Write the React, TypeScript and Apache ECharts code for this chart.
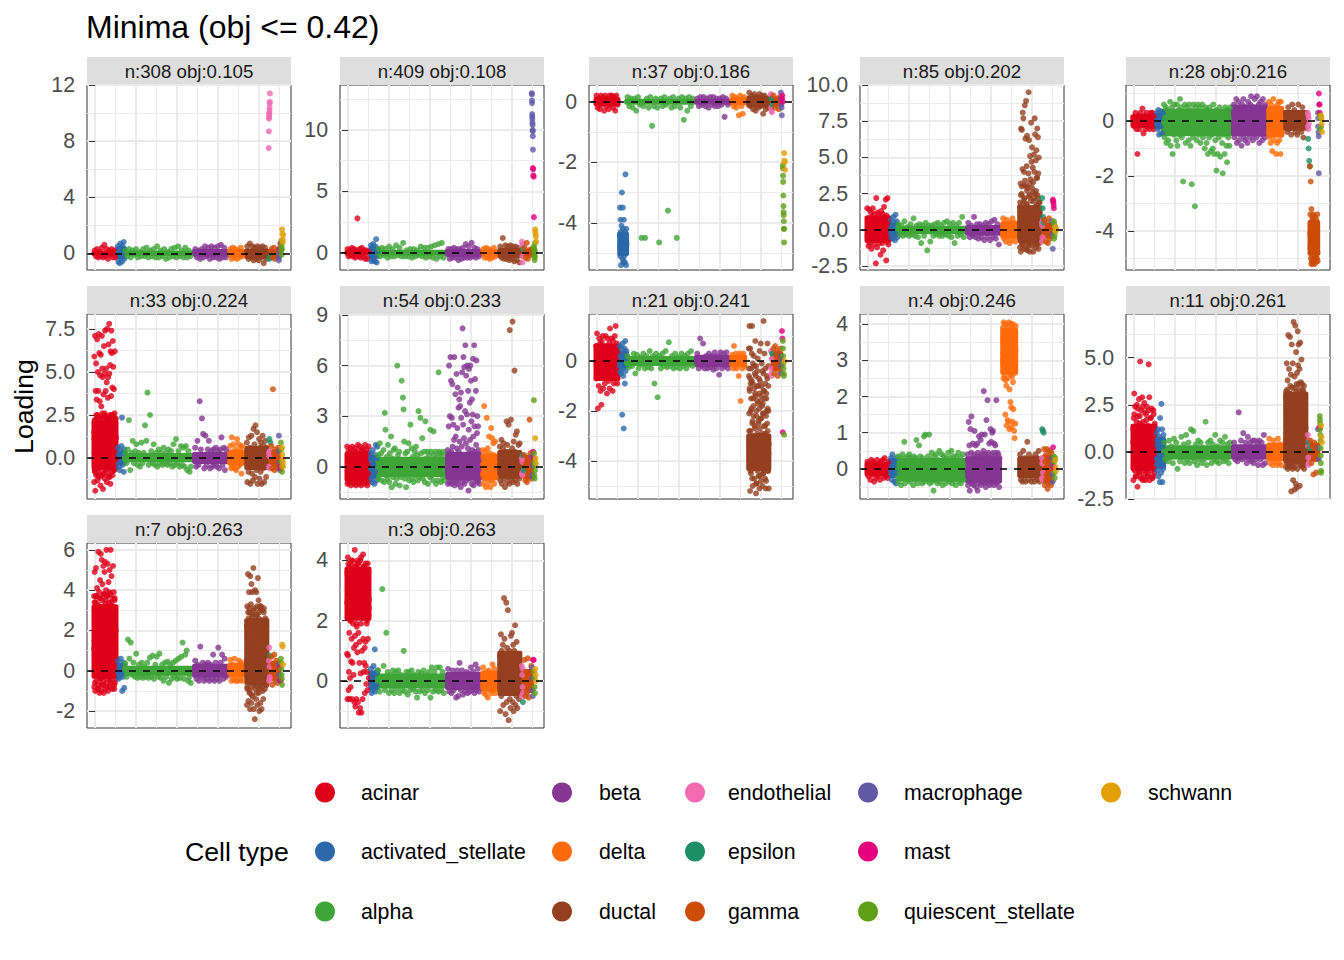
import React, { useEffect, useRef } from "react";
import * as echarts from "echarts";

const cellTypes = ["acinar","activated_stellate","alpha","beta","delta","ductal","endothelial","epsilon","gamma","macrophage","mast","quiescent_stellate","schwann"];
const typeColors = ["#DE001A","#2C68AA","#40A538","#843692","#FF6B0A","#944020","#F369B2","#1D8F67","#CC4C08","#6358A5","#E5007E","#5F9F16","#E29F08"];
// cell-rank span of each cell type on the shared x scale
const typeSpans = [[-30,510],[550,720],[720,2355],[2430,3215],[3290,3610],[3705,4200],[4245,4275],[4250,4300],[4300,4490],[4490,4520],[4515,4545],[4540,4575],[4570,4600]];
const xMajor = [0,1000,2000,3000,4000];
const xMinor = [500,1500,2500,3500,4500];
// cell types whose points overplot into a solid core
const coreTypes = [0,1,2,3,4,5,8];

const n308_core = [[-.2,.2],[-.4,.5],[-.2,.2],[-.25,.3],[-.3,.3],[-.4,.35],[-.3,.3]];
const n409_core = [[-.25,.25],[-.5,.5],[-.25,.25],[-.35,.3],[-.35,.3],[-.45,.4],[-.3,.3]];
const n37_core = [[-.15,.15],[-5.1,-4.3],[-.1,.1],[-.1,.1],[-.12,.15],[-.2,.2],[-.15,.15]];
const n85_core = [[-.9,1],[-.4,.5],[-.3,.3],[-.4,.35],[-.6,.6],[-.9,1.7],[-.6,.5]];
const n28_core = [[-.25,.25],[-.3,.3],[-.55,.45],[-.55,.6],[-.6,.55],[-.35,.4],[-4.9,-3.6]];
const n33_core = [[-.7,2.2],[-.4,.4],[-.25,.3],[-.35,.35],[-.45,.5],[-.7,.7],[-.5,.5]];
const n54_core = [[-.9,.9],[-.7,.7],[-.6,.6],[-.8,.9],[-.8,.8],[-.7,1],[-.7,.7]];
const n21_core = [[-.8,.7],[-.3,.4],[-.2,.2],[-.25,.25],[-.25,.25],[-4.4,-2.9],[-.4,.4]];
const n4_core = [[-.2,.2],[-.25,.3],[-.35,.3],[-.4,.35],[2.6,3.9],[-.25,.35],[-.4,.4]];
const n11_core = [[-1,1.5],[-.9,.8],[-.4,.35],[-.4,.4],[-.5,.5],[-.6,3.2],[-.5,.5]];
const n7_core = [[-.4,3.3],[-.3,.4],[-.25,.25],[-.35,.35],[-.35,.4],[-.7,2.6],[-.5,.5]];
const n3_core = [[2,3.8],[-.3,.35],[-.25,.25],[-.3,.3],[-.35,.35],[-.5,1],[-.4,.4]];

const n21_ductal2 = [-.3,-2.8,-1.1,-3.6,-.7,-4.4,-2,-1.5,-3.1,.3,-4.7,-2.4,-.9,-3.9,-1.8,-3.3,-.2,-4.1,-2.7,-1.3,-3.7,-.6,-4.9,-2.2,-3.4,-1.6,-.4,-4.3,-3,-2.5,-1,-3.8,-1.9,-4.6,-.8,-3.2,-2.3,-1.4,-4,-.1,-2.9,-3.5,-1.7,-4.5,-.5,-2.1,-3.6,-1.2,-4.2,-2.6,-.3,-3.1,-4.8,-1.5,-2,-3.9,-.7,-2.8,-4.4,-1,-3.3];
const n7_acinar2 = [1.1,3.4,-.6,2.5,.2,3.7,1.6,-.2,2.9,.7,3.2,-.9,2,.4,3.6,1.3,-.4,2.7,3,.9,-.7,1.9,3.5,.1,2.3,-.5,3.8,1.5,2.8,-.1,1,3.3,.5,2.1,-.8,3.7,1.7,.3,2.6,3.1,-.3,1.2,3.9,.6,2.4,-.6,1.8,3.4,.8,2.2,-.2,3,1.4,.2,2.7,-.9,3.6,1.1,2,.5];
const n7_ductal2 = [2.2,-.8,1,2.9,-.2,.5,3.1,-1,1.6,-.5,2.5,.2,-1.2,1.9,2.7,-.1,.8,3,-.7,1.3,2.4,-.3,.4,2,-1.1,2.8,1.1,-.6,1.7,2.6,0,-.9,1.4,3.2,.6,-.4,2.1,1.2,-.8,2.3,.3,1.8,2.9,-.2,.9,-.5,1.5,2.5,.1,-.7];
const n11_ductal2 = [2.9,-.4,1.4,3.3,.2,2.2,-.7,3.1,1,2.6,-.2,3.5,1.7,.5,2.8,-.6,1.2,3,.1,2.4,-.8,1.9,3.4,.7,2.1,-.3,3.2,1.5,.3,2.7,-.5,1.1,3.6,.9,2.3,0,1.8,3,-.4,2.5,1.3,.4,3.3,2,-.7,1.6,2.9,.6,2.2,-.1];
const n11_acinar2 = [1.2,-.9,2,-.4,.7,-1.3,1.6,.2,2.3,-.7,1,-1.1,1.9,.4,-.2,1.4,-1.4,2.4,.6,-.6,1.1,2.1,-1,.3,1.7,-.3,.8,-1.2,2.2,.1,1.3,-.8,1.8,.5,-.5,1,-1.3,2,-.1,1.5];
const n33_acinar2 = [1.1,-.8,2.2,.3,1.7,-.3,2.5,.7,-1,1.4,2,-.5,.9,2.4,-.1,1.2,-.9,1.9,.5,2.6,-.6,1,.1,2.2,1.5,-.2,.7,2.3,-1.1,1.8,.4,1.3,-.4,2.5,.8,1.6,-.7,2.1,0,1.1];
const n3_acinar2 = [2.6,3.5,2.1,3.9,3,2.4,3.7,2.8,2,3.3,4,2.5,3.1,2.2,3.6,2.9,3.8,2.3,3.2,2.7,3.4,1.9,3,3.9,2.5,3.5,2.2,3.7,2.8,3.3,2.4,4.1,3,2.6,3.6,2.1,3.2,3.8,2.7,2.3,3.4,2.9,3.9,2.5,3.1,2,3.6,2.8,3.3,2.4];
const n85_ductal2 = [1.6,-.6,2.4,.4,3,-1,1.1,.2,2.1,-.3,3.4,.9,-.8,1.8,2.7,-.1,1.3,-1.1,2.3,.6,3.2,-.5,1.5,.1,2.9,-.7,.8,2,-.2,1.2,2.5,-.9,.5,1.7,3.6,0,2.2,-.4,1,1.9];
// [panel index, cell type index, extra overplotted values]
const extraPoints: [number, number, number[]][] = [[7,5,n21_ductal2],[10,0,n7_acinar2],[10,5,n7_ductal2],[9,5,n11_ductal2],[9,0,n11_acinar2],[5,0,n33_acinar2],[11,0,n3_acinar2],[3,5,n85_ductal2]];

const n308 = [
[.2,-.2,.3,-.3,.1,-.2,.4,-.3,.6,-.2,.3,-.4,.2,-.1,.3,-.3,.2,-.3],
[.5,-.6,.1,-.7,.7,-.3,.3,-.6,.5,0,.8,-.4],
[.2,-.2,.3,-.3,.2,-.1,.3,-.3,.1,-.2,.3,-.2,.4,-.3,.2,-.2,.3,-.3,.5,-.3,.2,-.2,.3,-.4,.1,-.3,.3,-.2,.4,-.3,.5,-.2,.2,-.3,.4,-.3,.2,-.2],
[.3,-.3,.2,-.4,.3,-.3,.5,-.2,.4,-.4,.5,-.3,.4,-.3,.5,-.4,.6,-.3,.4,-.3],
[.3,-.4,.4,-.3,.3,-.4,.2,-.3,.4,-.2],
[.5,-.4,.7,-.3,.5,-.5,.4,-.4,.5,-.5,.4,-.3,.5,-.7,.4,-.4],
[7.5,8.7,9.6,9.7,9.9,10,10.2,10.4,10.7,10.8,11.4],
[-.4,-.3,-.2],
[.3,-.3,.4,-.4,.1,-.2,.3],
[-.5,-.3,.1,-.1,.3,.2],
[.3,.7,.2],
[.2,.5,.9,.6,-.1,.3],
[1.7,1.4,1.0,.8,1.3],
];
const n409 = [
[.3,-.3,.2,-.2,.4,-.3,.3,-.4,.2,2.8,-.3,.3,-.4,.4,-.3,.2,-.5,.2,-.5,.1],
[.6,-.7,.4,-.5,.7,-.6,.2,-.7,.5,1.1,-.8,.1],
[.3,-.3,.4,-.2,.3,-.4,.5,-.3,.3,-.3,.6,-.2,.4,-.3,.8,-.3,.2,-.3,.3,-.4,.3,-.3,.2,-.2,.5,-.3,.4,-.4,.4,-.3,.5,-.4,.6,-.5,.7,-.3,.8,-.4],
[.3,-.5,.3,-.4,.4,-.4,.3,-.6,.3,-.5,.4,-.4,.7,-.4,.5,-.4,.8,-.3,.4,-.4,.3,-.3],
[.3,-.4,.4,-.4,.3,-.5,.2,-.4,.4,-.3],
[.5,-.4,1.2,-.5,.6,-.5,.5,-.6,.6,-.5,.5,-.7,.5,-.6,.4,-.8],
[.9,.5,-.3,-.8,.7],
[.3],
[.4,-.4,.8,-.5,.2,-.2,.3],
[13,12.9,12.4,12.2,11.3,11.1,10.9,10.6,10.4,10,9.9,9.5,8.4],
[6.9,6.8,6.3,6.2,2.9],
[.5,.3,.1,-.2,-.4,-.6,-.3,.2,.8],
[1.9,1.7,1.5,1.3,.9],
];
const n37 = [
[.2,-.2,.1,-.25,.2,-.1,.15,-.3,.2,-.15,.1,-.25,.2,-.1,.2,-.2,.15,-.3,.2,-.1],
[-4.4,-3.5,-4.8,-5.1,-3.9,-4.3,-5.4,-4.7,-4.1,-4.9,-3,-5,-4.5,-5.2,-3.5,-4.2,-4.7,-5.3,-4.4,-3.9,-4.8,-5.1,-4.6,-5.3,-4.3,-4.9,-2.4,-4.6,-5,-5.4,-4.2,-4.7],
[.15,-.15,.1,-.2,.1,-.3,.15,-.1,-4.5,-.15,-4.5,.1,-.2,.15,-.8,-.15,.1,-.2,-4.65,.1,-.15,.15,-.1,-3.6,.1,-.2,.15,-.15,-4.5,.1,-.2,.15,-.6,.1,-.3,.15,-.15,.1],
[.1,-.15,.15,-.1,.15,-.15,.1,-.2,.15,-.1,.15,-.15,.1,-.15,.1,-.1,.15,-.5,.1,-.1],
[.2,-.15,.15,-.2,.1,-.45,.2,-.15,-.4,.15],
[.3,-.15,.2,-.25,.25,-.3,.15,-.2,.25,-.15,.2,-.4,.2,-.25,.1,-.2],
[.25,-.2,.2,-.3,-.35],
[.1,-.1],
[.2,-.2,-.1,.1,-.25,.15],
[.3,.1,-.1,-.2,-.45],
[.1,.2,0],
[-2.1,-2.2,-2.45,-2.65,-3.1,-3.45,-3.65,-3.75,-3.95,-4.2,-4.2,-4.65],
[-1.7,-1.95,-2,-2.25],
];
const n85 = [
[1.5,-.5,.8,-1.1,.3,1.4,-.9,.6,-.2,1.2,-1.3,.9,.2,1.5,-.7,.4,-1.0,1.1,-.3,.7,-2.3,2.2,.1,-1.2,1.2,-.6,.5,1.0,-.9,.2,.8,-1.7,1.3,-.4,.6,-.9,1.1,-1.4,.3,1.6,-.7,.9,-.1,2.1,-2.1,1.0,-.8,2.2,.4,-1.0,.8],
[.7,-.5,.3,-.6,.9,-.2,.5,-.7,1.05,-.3,.6,-.5],
[.4,-.3,.3,-.4,.6,-.3,.2,-.4,.4,-.3,.8,-.4,.3,-.5,.4,-.9,.3,-.4,.5,-1.4,.3,-.8,.3,-.4,.4,-.3,.5,-.4,.3,-.4,.5,-.3,.6,-.4,.4,-.5,.5,-.9,.3,-.4,.5,-.3,.9,-.5],
[.5,-.5,.3,-.4,.9,-.5,.4,-.6,.4,-.5,.3,-.7,.5,-.5,.4,-.7,.6,-.5,.7,-.6,.4,-1],
[.8,-.6,.4,-.8,.7,-.5,.2,-.9,.5,-.7,.8,-.4,.5,-.8],
[.5,-1.2,1.9,-.5,3.2,-1.5,7.0,.3,-.8,2.5,6.9,-1,1.2,4.2,8.1,-.3,1.8,7.7,-1.3,.9,4,3.1,-.7,2.2,8.6,-.2,1.4,6.3,-1.3,.7,8.9,3,-.6,4.4,1.7,6.5,-1.4,.2,2.9,-1,1.1,3.9,9.5,.4,6.2,-.5,1.5,2.4,-1.5,5.1,.8,3.5,-.9,2.0,7.4,-.4,4.7,1.3,5.7,-1.1,.3,2.6,4.3,-.2,3.3,-1.5,.7,5.2,2.2,-.7,4,7.7,.1,6.6,1.6,-1.2,4.8,2.7,-.3,5.5,3.6,1.0,-1,7.0,2.4,-.6,6.4,.5,3.9,-1.3,5,1.9,-.1,-.9,.6,1.2],
[.5,-.8,.3,-.5,.7],
[2.2,1.5,.9,.5],
[.7,-.8,.5,-.9,.8,-.6,.3],
[.6,-.3,-1.3],
[2.1,2,1.9,1.7,1.5],
[.6,-.6,.4,-.4,.2,-.1],
[.2,-.1,.1],
];
const n28 = [
[.1,-.2,.3,-.3,-1.2,.2,-.3,.3,-.1,.45,-.45,.2,-.3,.3,-.2,.1,-.3,.3,-.2,.3,-.3,.2],
[.3,-.3,.4,-.5,.2,-.2,.35,-.45,.1,.3],
[.6,-.6,.1,.5,-.8,-.2,.4,-.7,.3,-.4,.7,-.9,-.1,.5,-1.2,.2,-.5,.6,-.3,.1,-.7,.6,-.9,-.1,.4,-.5,.8,-.2,.5,-.6,.1,-2.2,.3,-.4,.6,-.8,0,.5,-.4,.2,-.7,.6,-.3,-.9,.4,-2.3,.1,-.6,.6,-.4,-3.1,.5,-.2,-.7,.3,.6,-.5,-.1,.5,-.8,.2,-.4,.6,-.6,-.1,.3,-1.0,.5,-.3,-.8,.4,-1.2,.1,-.6,.5,-.3,-1.1,.3,-.5,-1.0,.6,-1.2,.1,-.7,.4,-1.8,-.2,-1.2,.3,-.6,.5,-1.3,-.4,.2,-.8,-1.9,.3,-.5,-1.2,.5,-.2,-.9,-1.5,.4,-.6,.1,-.9,.5],
[.6,-.6,.1,-.4,.8,-.8,.3,-.2,.7,-.7,.4,-.5,.1,-.9,.6,-.3,.8,-.6,.2,-.7,.5,-.1,.4,-.8,.7,-.4,.1,-.6,.6,.9,-.3,.3,-.7,.5,-.5,.8,-.2,.2,-.6,.9,.4,-.4,.6,-.8,.1,.7,-.5,.3,-.7,.8,-.2,.5,-.6,.6],
[.7,-.6,.1,-.8,.6,.4,-1.1,-.3,.8,-.7,.2,-.5,.5,-1.2,0,-.8,.6,-.4,.7,-.7,.3,-1.2,.7,-.5],
[.3,-.4,.5,-.3,.1,-.5,.6,-.2,.4,-.4,.3,-.5,.6,-.3,.2,-.4,.5,-.6,.3,-.2],
[.3,-.2,.2,-.3,.1,-.1],
[-.65,-1,-1.45,-1.65],
[-1.65,-4.1,-3.4,-4.6,-2.2,-5,-3.7,-4.3,-5.2,-3.2,-4.8,-3.9,-5.1,-4.5,-3.5,-4.2,-4.9,-3.6,-5.2,-4,-4.7,-3.4,-4.4,-5.1,-3.8,-4.6,-5,-4.1,-3.7,-4.8,-5.2,-4.3,-3.5,-4.6,-5,-3.9,-4.2,-4.9,-3.8,-4.5,-5.1,-3.6,-4.4,-4.7,-4.0,-5.0,-4.2,-3.4,-4.8,-5.1],
[.3,-.2,.1,-.4,-.55,-1.9],
[1,.6,.6,.3],
[.2,-.3,.1,-.2],
[.2,.1,-.1,-.4],
];
const n33 = [
[1.5,-1.4,5.9,.3,2.2,-.7,7.1,1,-1.9,.5,3.9,-.2,1.9,5.5,-1,2.5,.8,3.4,-.5,1.3,6.9,2.1,-1.3,.2,5,1.7,-.8,3.9,.6,2.4,7.2,-.3,1.2,6.1,-1.1,.9,3.3,-.6,2,4.8,.4,-1.6,1.6,6,2.3,-.1,3,.7,-1,1.4,7.1,5.2,2.6,-.4,.1,4.7,1.8,-1.8,2.2,.9,3.7,-.9,1.1,6.5,-.2,2.5,.5,4.9,-1.2,1.5,7.4,2,.3,-.7,3.9,1.3,5.2,-.5,2.4,.7,4.4,-1.4,1.9,7.5,.1,2.3,-.9,3.5,1,4.7,-.3,1.6,6.6,2.1,-1.1,.6,7.8,4.9,1.2,-.6,2.5,.4,5.4,1.8,-1.5,6.2,2.2,-.2,3.6,.9,7.4,1.4,-.8,6.1,2.5,.2,4.1,-1,1.7,6.8,2,.5,5.3,-.4,2.4,1.1,4,-.7,1.9,.8,2.6,.3,6.2,1.5,-.5,2.2,.7,-.1,2.3,1.2],
[.6,-.5,.2,-.7,.4,-.3,.7,2.35,-.4,.3,-.8,.5],
[.3,-.3,.5,2.2,-.7,.3,1.0,-.3,.4,.8,-.4,.3,-.5,.9,-.3,.3,1.9,1,3.8,-.4,2.5,.4,-.3,.8,-.4,.3,-.5,.5,-.3,.3,-.4,.6,-.3,.3,-.4,.5,-.3,.4,-.5,.8,-.4,1.1,-.3,.4,-.5,.7,-.4,.6,-.5,.7,-.7,.4,-.8,-.5],
[.6,-.5,1,-.4,3.3,.5,2.3,1.4,-.6,1.3,-.4,.5,1,-.6,.4,-.5,.5,-.4,.6,-.5,.4,-.6,.5,1.2,-.4,.6,-.7,.5],
[.7,-.6,1.2,-.5,.8,-.6,.5,-.7,1.1,-.5,.8,-.4,.6,-.9,.7],
[.9,-1.4,.3,-.8,1.2,-.3,.6,-1.5,.1,1.3,-.9,.5,-1.3,1.7,-.4,.8,-1.1,1.9,.2,-.7,1.5,-1.5,.4,-.2,1.1,-1.2,.6,-.8,.9,-1.5,.2,1.3,-.6,.7,-1.4,.4,1.0,-.5,-1.1,.6],
[.3,-.5,.1,-.6,.4],
[1.1,.9],
[.7,-.6,4,.3,-.7,.5,-.4,.2,-.6,.6],
[1.3,.4,-.3,-.7],
[-.5,-.6],
[.9,.5,-.2,-.5,-.8],
[.6,.2,-.1,-.3,-.5],
];
const n54 = [
[1.2,-1,.3,-.5,.9,-.9,0,.7,-.7,1.1,-.2,.5,-1.1,.8,.1,-.6,1.2,-.9,.4,-.3,.9,-1,.1,.6,-.7,1.1,-.4,.3,-1.1,.9,.1,-.6,.7,-.9,1.3,-.2,.4,-1,.8,-.5,1.2,-.8,.2,.6,-1.1,1,-.3,.5,-.8,1.1,0,-.5,.9,-1,.4,-.7,1.3,-.2,.7,-.9,.3,-.6,1.0,-1.1,.1,.8,-.4,1.2,-.9],
[.8,-.7,.4,-.9,1,-.5,.1,-1,.7,-.3,1.3,-.8,.5,1.2],
[.7,-.7,.1,1.4,-.4,.8,-.8,.3,-.3,1,-.9,3.2,2.2,-.5,.6,-.7,1.3,.2,-.9,.8,-.3,1.8,-1.2,.5,-.6,1,-.4,1.1,-1,.3,-.7,6,.7,-.4,.9,-1.1,.2,-.6,5.1,-.3,4.1,3.4,1.5,-.7,.8,-1.2,.4,.9,-.5,1.4,-.8,.2,2.5,-.4,1.1,-.7,.6,-.9,.3,.9,-.5,1.2,-.3,.7,-.8,3.3,.4,-.6,2.9,.8,-.4,1.7,-.7,.2,.9,-.9,2.7,.5,-.3,.9,-1,.2,.7,-.6,2.2,.9,-.5,.4,-.8,2.1,.7,-.4,.9,-1,.2,.6,-.8,5.6,.9,-.4,.8,-.9,.3,.7,-.6,.9,-.8],
[1,-1,.3,-.6,2.4,6,.8,-.9,3,.2,6.5,-.5,5.1,.9,-1,2.9,-.3,4.9,1.2,-.8,.5,2.5,-.6,1.6,6.5,-1.1,.7,-.2,4.3,1.8,-.9,.4,5.5,1.1,-.5,2.3,4.7,-1,.3,3.5,.9,-.7,4,1.5,-.3,3.6,.6,-1.2,4.4,2.9,-.6,1.2,5.6,-.9,8.2,.3,2.5,6.5,-.4,1.7,5.9,-1,.7,3.3,7.2,-.5,1.4,5.4,-.8,.5,3.1,6,-.2,1.1,4.5,-1.4,2.2,5.8,.8,-.7,3.8,1.6,6,-.4,5.1,.2,2.7,-1,4,1,-.6,3.1,6.4,1.8,-1.1,.5,7.2,2.4,-.3,5.2,.9,-.8,4.5,1.3,6.3,-.5,2,3,-.9,.7,2.4,-.2,1,-.7,.4,-1],
[1,-1,.5,3.6,-.7,.2,.9,-1.2,.6,2.9,-.4,1.1,-.9,.4,1.8,-.6,.8,-1.2,.3,2.3,-.8,1.7,.1,-.5,1.4,.7,-1,.3,1.5,-.6],
[1.2,-.8,.4,-.3,1.6,-1,.8,-.2,1.1,-.7,1.4,-.5,.3,-1.2,.9,-.4,.6,2.7,-.9,1.3,.1,-.6,2.5,.9,-1,8.1,-.3,.7,2.8,-.7,.4,1.1,8.6,-.9,.2,1.5,-.5,5.7,.9,-.8,1.9,-.3,.6,2.1,-1,.8,-.5,1.3,.2,-.7,1.4],
[.5,-.4,.3,-.5,.6,-.3],
[.7,-.2],
[.7,-.8,.2,-.9,.5,-.6,2.8,.8,-.7],
[.6,-.5,.1,-.6],
[.9,.5],
[3.95,.8,-.5,.3,-.7,.1,-.2],
[1.7,.5,.2],
];
const n21 = [
[.6,-.7,1.1,-.2,-1.9,.3,-1,.9,-.4,.7,-1.2,.2,-1.75,.8,-.5,1,-1.1,.4,-.3,.6,-.9,.1,1,-.6,.5,-1.3,.9,-.1,.3,-.8,.7,-1.1,1.3,-.4,.2,.9,-.7,.5,-1.2,.8,-.2,-.9,.4,1.0,-.6,1.4,.1,-.4,.7,-.9,.3],
[.6,-.4,.2,-.5,.5,-.2,-2.15,.7,-.3,-.6,-2.7,.3,.5,-.9,.8,-.4,.1,.4],
[.2,-.25,.1,-.2,.3,-.5,.25,-.3,.15,-.15,.3,-.3,.2,-.25,.4,-.3,.2,-.9,.3,-1.45,.2,-.3,.3,-.2,.4,-.25,.75,-.2,.2,-.3,.3,-.25,.15,-.3,.3,-.2,.2,-.3,.3,-.15,.4,-.2],
[.3,-.3,.9,-.2,.7,-.3,.2,-.3,.3,-.25,.2,-.35,.35,-.3,.2,-.55,.35,-.3,.3,-.2,.35,-.3],
[.25,-.3,.6,-.2,.3,-.3,.1,-.6,.3,-1.6,.2,-.3,.3,-.2],
[.5,-.6,-2.1,-3.4,1.4,-1.2,-4,-5.2,.5,-2.8,-.9,-3.7,-4.5,-.3,-1.9,-3.2,-4.1,-.8,1.4,-2.5,-3.5,-5,-.1,-1.5,-3,-4.3,-2.2,.2,-3.9,-1.1,-4.7,-3.3,-.5,-2.6,-3.8,.8,-1.4,-4.2,-3.1,-5.3,-.2,-2,-3.6,-4.9,-1,-2.9,-3.4,-4.4,.1,-1.7,-3.9,-2.4,-3,-4.6,-.7,-3.7,-1.3,-5.1,.4,-2.7,-3.2,-4,-1.6,-3.5,.7,-4.8,-2.3,-3.8,-1,-4.3,-3,-1.8,-3.6,-5,-.4,-2.1,-3.1,-4.5,-1.2,1.6,-3.4,-4.1,-2.6,-3.8,.3,-1.5,-3.2,-4.7,-.9,-2.9,-3.5,-5.1,-2.2,-3.9,-1.3,-3,-4.2,-.6,-2.5,-3.3,.7,-1.9,-4.4,-3.6,-.2,-2,-3.7,-5.1],
[.4,-.3,-.5,.1,-.6],
[.3],
[.5,-.5,.6,-.3,.4,-.6,.2,-.4,.5],
[.2,-.2,-.5,0],
[1.2,.9,-2.85],
[.8,.5,.2,-.1,-.3,-.5,-.6,-2.95],
[0],
];
const n4 = [
[.2,-.2,.1,-.3,.25,-.15,.2,-.35,.1,-.25,.25,-.2,.15,-.3,.2,-.1,.25,-.25,.3,-.2,.1,-.25,.2],
[.3,-.3,.4,-.15,.2,-.35,.1,-.4,.3,-.1],
[.35,-.35,.1,-.1,.3,-.45,.2,.4,-.25,0,.75,-.4,.3,-.2,.1,.35,-.3,.05,.4,-.35,-.1,.3,-.2,.15,-.45,.35,0,-.3,.3,.8,-.15,-.4,.2,.65,-.25,.35,-.1,.1,-.4,.3,-.2,.9,-.35,.95,.2,-.1,-.3,.35,.05,.95,-.4,.25,-.2,.45,-.35,.1,-.6,.35,-.15,-.3,.4,.05,-.4,.25,-.2,.5,-.35,.15,-.1,.4,-.45,.2,.35,-.25,0,-.4,.3,-.1,-.3,.45,.1,-.35,.3,-.2,.5,-.4,.05,.35,-.3,.2,-.1,-.45,.35,-.2,.1,.45,-.35,0,.3,-.4,.2,-.15,.4,-.3,.1],
[.4,-.45,.1,1.3,-.2,.65,-.6,.2,1.1,-.35,.45,1.45,-.1,-.4,.3,.7,-.25,.1,-.45,.4,1.05,0,-.3,.65,.2,-.5,.35,-.15,.7,-.6,.45,-.3,.1,.9,-.4,.3,.35,-.2,.8,-.45,.05,.95,.4,-.35,.15,-.1,.5,2.15,-.4,.25,.95,-.25,.4,-.5,.1,1.35,-.3,.35,1.9,-.15,.45,-.4,.2,.7,-.05,-.45,.3,1.1,-.2,.75,.4,-.35,1.0,.1,1.05,-.3,.45,-.45,.7,.2,-.15,.65,.35,-.4,1.9,.05,-.25,.45,-.35,.15,.4,-.1,-.5,.3],
[3.9,3,3.6,3.2,2.5,4.05,2.9,3.4,3.7,2.6,3.1,4,3.5,2.8,3.3,1.5,3.8,2.45,3,3.6,2.3,1.2,4,2.9,3.2,3.5,2.5,3.9,1.35,3.1,3.7,2.7,1.3,3.3,4.05,2.85,3.6,1.1,2.2,3.4,3.8,3,2.6,1.85,3.2,4,2.75,3.5,1.7,1.15,3.1,3.9,2.55,3.65,2.95,1.3,3.35,4,2.4,3.15,1.65,3.75,2.7,3.45,1.05,3.05,3.85,.85,2.65,3.55,2.9,1.25,3.25,3.95],
[.4,-.3,.1,-.35,.5,-.2,.3,-.35,.15,.75,-.3,.4,-.15,.2,-.35,.3,-.25,.1,-.35,.4,-.2,.3,-.3,.5,-.35],
[.3,-.25,.15,-.3,.2,-.1],
[1.1,1.05,1.0],
[.55,-.45,.2,-.3,.4,-.15,.55,-.55,.3,-.4,.1,.5,-.25,.3,-.45,.45],
[.3,.1,-.15,-.35],
[.6,.05],
[.35,.2,-.1,-.25,.3],
[.25,.05,-.05],
];
const n11 = [
[.5,-1.5,1.8,-.5,3.1,.2,-1,2.4,.8,-1.3,.1,1.3,-.7,2.5,.6,-1.85,1.9,-.3,.9,-1.1,2.8,0,1.5,-.8,4.8,.4,-1.4,2.2,-.2,1.1,-.9,2.9,.7,-1.5,1.6,-.4,.3,-1.2,2.6,.9,-.6,1.2,-1.5,.5,2,-.2,-1,2.4,.8,-1.3,1.4,0,-.7,4.65,.6,2.9,-1.5,.9,-.3,1.8,.2,-1,1.1,2.3,-.6,.7,-1.4,1.0,-.1,2.2,.4,-.9,.9,-1.1,.1],
[1,-1,.4,-.6,1.2,-1.3,.1,-.3,.8,-1.6,1.8,-.8,.5,-1.1,2.55,-.2,1.2,-1.6,.3,-.9,.9],
[.5,-.4,.1,-.5,.6,-.3,.3,-.6,.7,-.2,.5,-.9,.2,-.5,.8,-.3,.4,-.6,.9,-.4,.5,-.6,1.2,-.3,1.1,-.5,.4,-.7,.6,-.4,.5,-.6,.2,-.4,1.6,-.7,.5,-.3,.6,-.6,.4,-.4,.9,-.5,.3,-.6,.6,-.3,.5,-.5,.8,-.4,.4,-.6,.5],
[.5,-.4,.2,-.5,2.1,-.3,.6,-.4,1,-.3,.5,-.6,.8,-.4,.5,-.5,.6,-.6,.6,-.4,.5,-.7,.6,-.4,.5,-.7,.9,-.6],
[.7,-.6,.3,-.7,.6,-.5,.1,-.7,.7,-.6,.4,-.7],
[.6,-.8,3.2,-.2,1.5,4.7,-.6,2.4,.3,3.8,-.9,1.1,6.2,-.5,2.9,.8,4.4,-.3,2,-.8,3.1,6.1,.2,1.7,-.6,4.1,2.6,-2.1,.6,5.7,-.4,3.4,1.3,-.9,4.7,2.2,-1.5,.4,6.9,2.8,-.7,1.6,4,-2,-.2,3,6.7,.9,-1.7,2,5.3,-.5,3.6,1.2,-1.9,4.2,-.9,2.5,6.4,.5,4.6,-.3,5.7,1.8,-.6,3.3,.1,4.4,-1.8,2.7,5.8,1.0,-.7,3.7,.7,2.1,4.9,-.2,1.4,3.6,-.8,2.6,.3,1.9,3.2,-.5,1,2.3,3.5,-.9,.6,1.6,-.3,2.9,.9,-.6,1.3,.2],
[.9,.3,-.3,-.7,-.6,.6],
[.5,.2],
[.6,-.6,.3,-1.2,.5,-.4,-1.1,.2],
[1.2,.2,-.4],
[1.3],
[1.9,1.7,1.5,1.2,.9,.6,.2,-.2,-.6,-1,-1.1],
[1.4,.8,.5],
];
const n7 = [
[3.7,-.8,1.5,4.9,.3,2.8,-1,3.4,.7,2.2,5.1,-.5,1,3.7,-.1,2.7,4.1,.5,1.8,-.9,3.3,.2,5.9,1.3,-.7,2.4,3.9,.9,-1.1,2.9,.1,4.5,1.7,-.4,3.6,5.8,.6,2.1,-1,3,5.5,1.2,-.2,4.3,.4,2.5,-.7,3.2,5.2,1.6,-1.1,3.8,.8,2.2,4.9,-.3,2.9,5.4,1.1,-.9,3.5,.3,4,1.9,6,-.6,2.6,.7,3.7,-.1,5.3,1.4,-1,3.1,2,4.4,.5,-.4,3.4,1.2,5,2.4,-.8,.9,3.8,1.7,6,.2,2.9,-.5,4.7,1.3,3.2,-.9,2.1,.6,3.6,1.8,5.2,-.2,2.6,.4,3.9,1,-.7,2,3.5,.8,-.6,1.5,.2,2,-.4,.6],
[.5,-.4,.2,-.3,.6,-.1,-1,-.3,.4,-.85],
[.35,-.3,1.55,.6,1.4,-.2,.4,-.3,.85,-.35,.3,-.3,.4,-.35,.2,-.3,.4,-.35,.65,-.3,.75,-.4,.3,.7,-.3,.85,-.35,.3,-.5,.4,-.3,.45,-.6,.3,-.4,.4,-.3,.5,-.4,.6,-.35,.7,1.4,-.4,.8,1,-.5,-.3,-.6],
[.5,-.4,.3,-.5,1.2,-.3,.4,-.5,.3,-.4,.4,-.5,.3,-.4,.8,-.5,.4,-.4,1.15,-.5,.4,.8,-.4,.6,-.3],
[.55,-.5,.3,-.45,.6,-.5,.1,-.5,.5,-.45,.4,-.5],
[.5,-1.7,3.2,-.9,1.8,-.3,4.8,.9,-1.5,2.6,-.6,3.9,.2,-1.1,1.3,2.9,-1.9,4.7,.6,-.4,3.3,2.2,-1.6,4.3,1,-.8,3.9,.4,2.8,-1.3,1.6,-.2,5.1,2.4,-1.9,.7,3.1,-.6,1.1,-2.4,4,2,-.9,.3,2.7,-1.4,3.9,1.4,-.5,.8,3.2,-1.7,2.3,.1,4.6,-.8,1.7,3.5,-1.1,.5,2.9,-2,1.2,-.3,3.1,.7,-1.6,2.1,-.7,3.2,1.5,.2,-1.9,2.5,-.4,3,.9,-1,1.9,.4,-1.4,2.4,-.6,3.1,1.1,-.2,2,.6,-.9,1.6,2.6,-.4,1.3,.3,-.7,1,-.2,.5],
[.5,-.5,1.15,.2,-.3,-.4],
[.75],
[.7,-.7,.3,.8,-.5,.5,-.6,.1],
[.3,-.2,-.5],
[.2,-.5],
[.6,.4,.1,-.2,-.4,-.7],
[1.3,1.2,.3],
];
const n3 = [
[.9,3.6,-.6,2.7,4.1,.85,3.1,-.3,2.3,.3,3.8,1.6,-.6,2.9,3.4,.1,2,3.9,-.2,2.5,.65,3.2,3.7,1.4,-.6,2.8,4,.6,3.1,1.9,2.4,3.5,.2,3.7,1.1,3,-.7,2.6,4.35,1.5,3.3,-.85,2.2,3.8,1.2,2.9,-.6,3.5,1.8,3.1,4,.95,2.5,3.6,-.7,2.7,1.6,3.9,-1.05,3.2,2.3,.6,3.4,1.3,2.8,-.9,4,.25,3,1.9,3.6,-1.05,2.5,3.3,1,2.9,3.7,-.6,2.1,4.2,1.4,3.2,.3,2.6,3.8,.6,3,1.1,-.4,3.5,2.4,1.3,.5,3.1,2.8,-.1,3.7,1.9,.3,2.5,3.3,-.3,3.9,1.4,3,2.2,3.6,.1,2.7],
[.4,-.4,.1,-.3,.5,-.2,1.05,-.35,.25,-.15,.35],
[.35,-.35,.1,3.05,.5,-.3,1.6,.3,-.4,.2,-.3,.35,-.4,.3,-.25,.35,-.4,.2,-.3,1,-.35,.3,-.45,.3,-.3,.35,-.25,.2,-.35,-.55,.3,-.35,.25,-.3,.35,-.4,.2,-.3,.3,-.55,.45,-.35,.3,-.3,.45,-.35,.45,-.3,.3,-.4],
[.4,-.35,.1,-.4,.35,-.3,.2,-.55,.35,-.5,.6,-.3,.35,-.45,.2,-.35,.3,-.4,.25,-.35,.45,-.3,.3,-.4,.55,-.3,.4,-.35],
[.45,-.4,.1,-.45,.3,-.55,.35,-.3,.15,-.4,.55,-.3,.4,-.4],
[.8,-1,.3,1.55,-.5,1,-.2,.6,1.2,-.8,.1,2.75,1.4,-.4,.9,-1.1,.5,2.6,-.7,1.1,-.1,2.35,.7,-1.3,.3,1,-.6,.8,-.9,1.5,.2,-.4,1.6,.6,-.7,1.2,-1,.4,1,-.3,1.85,-.8,.6,-.5,1.3,.1,-.9,.7,-.2,.4,-.6,.5,-.4],
[.5,-.5,.2,-.2,.4,-.4],
[-.7],
[.7,-.5,.3,-.4,.75,-.55,.2,-.2,.5],
[.45,.1,-.3,-.5],
[.7,.7],
[.3,.1,-.2,-.4],
[.4,.2,0],
];

const panelTitles = ["n:308 obj:0.105","n:409 obj:0.108","n:37 obj:0.186","n:85 obj:0.202","n:28 obj:0.216","n:33 obj:0.224","n:54 obj:0.233","n:21 obj:0.241","n:4 obj:0.246","n:11 obj:0.261","n:7 obj:0.263","n:3 obj:0.263"];
const panelValues = [n308,n409,n37,n85,n28,n33,n54,n21,n4,n11,n7,n3];
const panelCores = [n308_core,n409_core,n37_core,n85_core,n28_core,n33_core,n54_core,n21_core,n4_core,n11_core,n7_core,n3_core];
const yLimits = [[-1.19,12],[-1.41,13.67],[-5.56,.55],[-2.76,10],[-5.42,1.31],[-2.38,8.37],[-1.9,9.05],[-5.52,1.88],[-.83,4.28],[-2.5,7.32],[-2.84,6.34],[-1.56,4.58]];
const yMajors = [[0,4,8,12],[0,5,10],[-4,-2,0],[-2.5,0,2.5,5,7.5,10],[-4,-2,0],[0,2.5,5,7.5],[0,3,6,9],[-4,-2,0],[0,1,2,3,4],[-2.5,0,2.5,5],[-2,0,2,4,6],[0,2,4]];
const yMinors = [[2,6,10],[2.5,7.5,12.5],[-5,-3,-1],[-1.25,1.25,3.75,6.25,8.75],[-5,-3,-1,1],[-1.25,1.25,3.75,6.25],[-1.5,1.5,4.5,7.5],[-5,-3,-1,1],[-.5,.5,1.5,2.5,3.5],[-1.25,1.25,3.75,6.25],[-1,1,3,5],[-1,1,3]];
const yDecimals = [0,0,0,1,0,1,0,0,0,1,0,0];

const colLeft = [87,340,589,860,1126];
const rowTop = [85,314,543];
const panelW = 204;
const panelH = 185;
const corePad = 60;
const font = "'Liberation Sans', Arimo, Helvetica, Arial, sans-serif";

const legendDotX = [325,562,695,868,1111];
const legendTextX = [361,599,728,904,1148];
const legendRowY = [792,851,911];

export default function App() {
  const ref = useRef<HTMLDivElement>(null);
  useEffect(() => {
    const chart = echarts.init(ref.current!, undefined, { renderer: "svg" });
    const grid: any[] = [], xAxis: any[] = [], yAxis: any[] = [], series: any[] = [], graphic: any[] = [];
    const spread = (vals: number[], a: number, b: number) => vals.map((y, i) => [a + ((i + 0.5) / vals.length) * (b - a), y]);
    panelTitles.forEach((title, p) => {
      const left = colLeft[p % 5], top = rowTop[Math.floor(p / 5)];
      grid.push({ left, top, width: panelW, height: panelH, show: true, backgroundColor: "#fff", borderColor: "#333333", borderWidth: 1, containLabel: false });
      xAxis.push({
        gridIndex: p, type: "value", min: -200, max: 4790,
        axisLine: { show: false }, axisLabel: { show: false },
        axisTick: { show: false, customValues: xMajor },
        splitLine: { show: true, lineStyle: { color: "#EBEBEB", width: 2 } },
      });
      yAxis.push({
        gridIndex: p, type: "value", min: yLimits[p][0], max: yLimits[p][1],
        axisLine: { show: false },
        axisTick: { show: true, length: 6, customValues: yMajors[p], lineStyle: { color: "#333333", width: 1 } },
        axisLabel: { color: "#4D4D4D", fontSize: 21.33, fontFamily: font, margin: 12, padding: [2, 0, 0, 0], customValues: yMajors[p], formatter: (v: number) => v.toFixed(yDecimals[p]) },
        splitLine: { show: true, lineStyle: { color: "#EBEBEB", width: 2 } },
        ...(p === 5 ? { name: "Loading", nameLocation: "middle", nameRotate: 90, nameGap: 50, nameTextStyle: { fontSize: 26.67, color: "#000", fontFamily: font } } : {}),
      });
      series.push({
        type: "scatter", name: "minor-grid", xAxisIndex: p, yAxisIndex: p, data: [], silent: true, z: 1,
        markLine: {
          silent: true, symbol: "none", animation: false, z: 1, label: { show: false },
          lineStyle: { color: "#EBEBEB", width: 1, type: "solid" },
          data: [...xMinor.map((v) => ({ xAxis: v })), ...yMinors[p].map((v) => ({ yAxis: v }))],
        },
      });
      panelValues[p].forEach((vals, t) => {
        const [a, b] = typeSpans[t];
        const ci = coreTypes.indexOf(t);
        if (ci >= 0) {
          const [lo, hi] = panelCores[p][ci];
          series.push({
            type: "custom", name: "core-" + cellTypes[t], xAxisIndex: p, yAxisIndex: p, silent: true, z: 2,
            encode: { x: [0, 1], y: [2, 3] },
            data: [[a - corePad, b + corePad, lo, hi]],
            renderItem: (_: any, api: any) => {
              const p0 = api.coord([api.value(0), api.value(3)]);
              const p1 = api.coord([api.value(1), api.value(2)]);
              return { type: "rect", shape: { x: p0[0], y: p0[1], width: p1[0] - p0[0], height: p1[1] - p0[1], r: 2 }, style: { fill: typeColors[t] } };
            },
          });
        }
        const more = extraPoints.filter((e) => e[0] === p && e[1] === t).flatMap((e) => spread(e[2], a, b));
        series.push({
          type: "scatter", name: cellTypes[t], xAxisIndex: p, yAxisIndex: p, symbol: "circle", symbolSize: 6, z: 2, clip: true,
          itemStyle: { color: typeColors[t], opacity: 0.8 },
          data: [...spread(vals, a, b), ...more],
        });
      });
      series.push({
        type: "scatter", name: "zero-line", xAxisIndex: p, yAxisIndex: p, data: [], silent: true, z: 5,
        markLine: {
          silent: true, symbol: "none", animation: false, z: 5, label: { show: false },
          lineStyle: { color: "#000", width: 1.6, type: [7, 7] },
          data: [{ yAxis: 0 }],
        },
      });
      graphic.push({ type: "rect", silent: true, shape: { x: left, y: top - 28, width: panelW, height: 28 }, style: { fill: "#DEDEDE" } });
      graphic.push({ type: "text", silent: true, style: { text: title, x: left + panelW / 2, y: top - 14, align: "center", verticalAlign: "middle", fontSize: 18.67, fontFamily: font, fill: "#1A1A1A" } });
    });
    graphic.push({ type: "text", silent: true, style: { text: "Cell type", x: 185, y: 852, align: "left", verticalAlign: "middle", fontSize: 26.67, fontFamily: font, fill: "#000" } });
    const legend = cellTypes.map((name, i) => {
      const c = Math.floor(i / 3), r = i % 3;
      const half = legendTextX[c] - 5 - legendDotX[c];
      return {
        data: [name], left: legendDotX[c] - 10, top: legendRowY[r] - 10, itemWidth: half * 2, itemHeight: 20, icon: "circle",
        selectedMode: false, itemStyle: { opacity: 1 }, padding: 0,
        textStyle: { fontSize: 21.33, color: "#000", fontFamily: font },
      };
    });
    chart.setOption({
      animation: false,
      backgroundColor: "#fff",
      title: { text: "Minima (obj <= 0.42)", left: 86, top: 11, padding: 0, textStyle: { fontSize: 32, fontWeight: "normal", color: "#000", fontFamily: font } },
      grid, xAxis, yAxis, series, legend, graphic,
    });
    return () => chart.dispose();
  }, []);
  return <div ref={ref} style={{ position: "fixed", left: 0, top: 0, width: 1344, height: 960, background: "#fff" }} />;
}
